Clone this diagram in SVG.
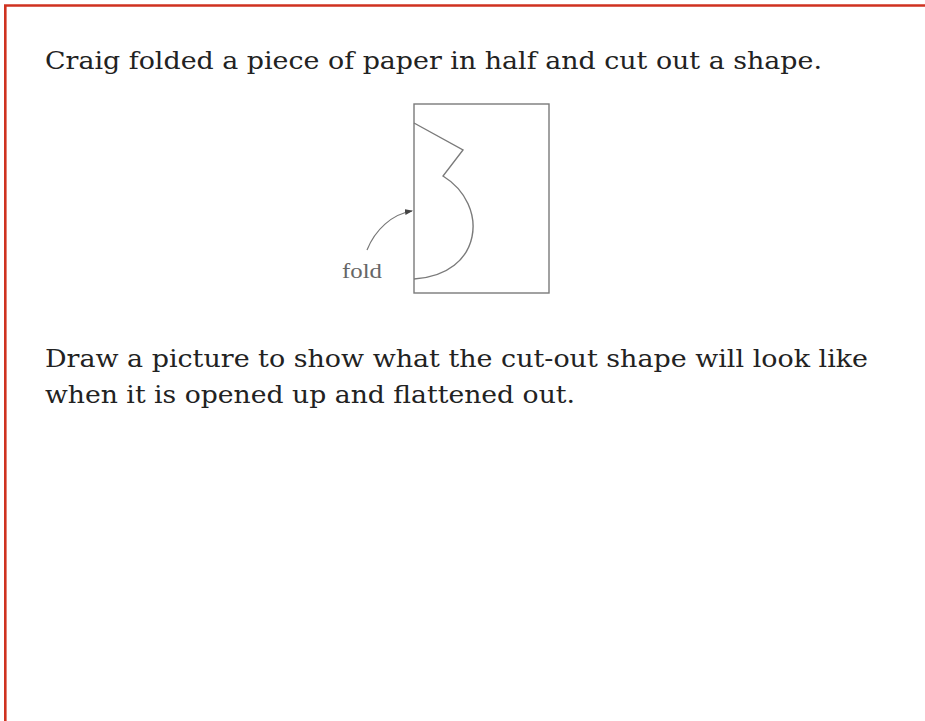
<svg xmlns="http://www.w3.org/2000/svg" width="925" height="721" viewBox="0 0 925 721">
<style>
.q{font-family:"DejaVu Serif","Liberation Serif",serif;font-size:25px;fill:#222}
.fig{fill:none;stroke:#7a7a7a;stroke-width:1.4}
.lbl{font-family:"Liberation Serif","Times New Roman",serif;font-size:22px;fill:#666}
</style>
<defs>
<marker id="ah" markerWidth="8" markerHeight="6" refX="7" refY="3" orient="auto" markerUnits="userSpaceOnUse">
<path d="M0,0 L8,3 L0,6 Z" fill="#444"/>
</marker>
</defs>
<rect width="925" height="721" fill="#fff"/>
<path d="M5.3,721 V5.5 H925" fill="none" stroke="#cf3220" stroke-width="2.6"/>
<text class="q" x="45" y="69" textLength="777" lengthAdjust="spacingAndGlyphs">Craig folded a piece of paper in half and cut out a shape.</text>
<g id="figure">
<rect class="fig" x="414" y="104" width="135" height="189"/>
<path class="fig" d="M414,123 L463,150 L443,176 C490,205 483,275 414,279"/>
</g>
<g id="connectors">
<path d="M367,250 C375,230 392,214 412,211" fill="none" stroke="#777" stroke-width="1.2" marker-end="url(#ah)"/>
</g>
<text class="lbl" x="342" y="278" textLength="40" lengthAdjust="spacingAndGlyphs">fold</text>
<text class="q" x="45" y="367" textLength="823" lengthAdjust="spacingAndGlyphs">Draw a picture to show what the cut-out shape will look like</text>
<text class="q" x="45" y="403" textLength="530" lengthAdjust="spacingAndGlyphs">when it is opened up and flattened out.</text>
</svg>
